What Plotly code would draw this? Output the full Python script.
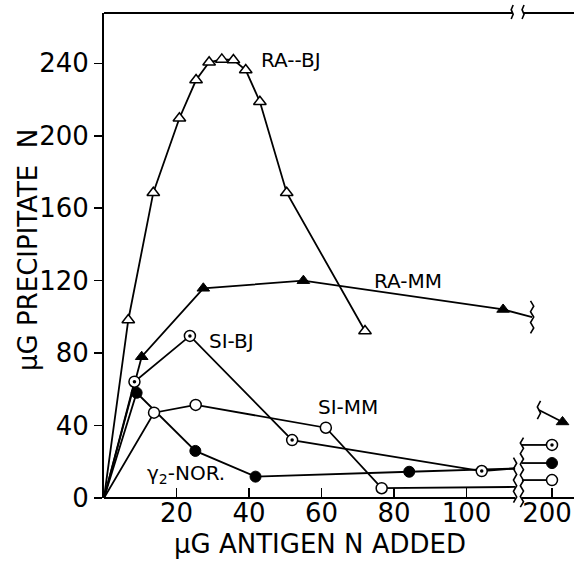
import plotly.graph_objects as go

# ---------------- data ----------------
ra_bj_x = [0, 6.7, 13.6, 20.8, 25.4, 29.0, 32.5, 35.7, 39.1, 43.0, 50.4, 72.0]
ra_bj_y = [0, 98.3, 168.6, 209.7, 230.8, 240.6, 242.2, 241.9, 236.3, 218.8, 168.6, 92.2]

ra_mm_x = [0, 10.4, 27.4, 55.0, 110.1]
ra_mm_y = [0, 78.0, 115.8, 120.0, 104.1]

si_bj_x = [0, 8.4, 23.7, 51.9, 104.2]
si_bj_y = [0, 64.2, 89.5, 32.0, 14.9]

si_mm_x = [0, 13.8, 25.3, 61.2, 76.6]
si_mm_y = [0, 47.1, 51.4, 38.8, 5.4]

g2_x = [0, 9.0, 25.2, 41.8, 84.2]
g2_y = [0, 58.1, 26.0, 11.8, 14.5]

# values where the lines are cut by the axis break
break_left_x = 113.4
ra_mm_cut = (118.1, 99.9)
si_bj_cut_y = 16.3
si_mm_cut_y = 6.1
g2_cut_y = 16.3

# right (200) segment
right_start_x = 191.7
ra_mm_right_start = (196.4, 48.6)
ra_mm_200 = (202.9, 42.0)
x_200 = 200
si_bj_200 = 29.3
g2_200 = 19.3
si_mm_200 = 9.9

x_ticks = [20, 40, 60, 80, 100]
x2_ticks = [200]
y_ticks = [0, 40, 80, 120, 160, 200, 240]

series_labels = ["RA--BJ", "RA-MM", "SI-BJ", "SI-MM", "γ<sub>2</sub>-NOR."]
label_pos = [(51.6, 241.9), (83.9, 119.8), (35.3, 86.7), (67.2, 50.0), (22.6, 13.0)]

# ---------------- layout geometry (page pixels) ----------------
FIG_W, FIG_H = 574, 564
L, R, T, B = 104, 574, 13, 498
W, H = R - L, B - T
PX_X = 3.625      # px per x unit
PX_Y = 1.811      # px per y unit
X1_END_PX = 534
X2_START_PX = 520
D1 = (X1_END_PX - L) / W
D2 = (X2_START_PX - L) / W
XR1 = [0, (X1_END_PX - L) / PX_X]
XR2 = [200 - (552 - X2_START_PX) / PX_X, 0]
XR2[1] = XR2[0] + (R - X2_START_PX) / PX_X
YR = [0, H / PX_Y]


def xp(v, ax=1):
    if ax == 1:
        return D1 * (v - XR1[0]) / (XR1[1] - XR1[0])
    return D2 + (1 - D2) * (v - XR2[0]) / (XR2[1] - XR2[0])


def yp(v):
    return (v - YR[0]) / (YR[1] - YR[0])


def squiggle(xpaper, ya, yb, amp=1.6, step=5.0):
    # vertical wavy mark in paper coords; amp/step in px
    n = max(2, int(abs(yb - ya) * H / step))
    pts = []
    for i in range(n + 1):
        y = ya + (yb - ya) * i / n
        dx = (amp / W) * (1 if i % 2 else -1)
        pts.append((xpaper + dx, y))
    return "M " + " L ".join(f"{x:.5f},{y:.5f}" for x, y in pts)


fig = go.Figure()
LW = 1.8

# ----- lines (left segment) -----
def add_line(xs, ys, xaxis="x"):
    fig.add_trace(go.Scatter(x=xs, y=ys, mode="lines", xaxis=xaxis, yaxis="y",
                             line=dict(color="black", width=LW), hoverinfo="skip"))

add_line(ra_bj_x, ra_bj_y)
add_line(ra_mm_x + [ra_mm_cut[0]], ra_mm_y + [ra_mm_cut[1]])
add_line(si_bj_x + [break_left_x], si_bj_y + [si_bj_cut_y])
add_line(si_mm_x + [break_left_x], si_mm_y + [si_mm_cut_y])
add_line(g2_x + [break_left_x], g2_y + [g2_cut_y])

# ----- lines (right segment) -----
add_line([ra_mm_right_start[0], ra_mm_200[0]], [ra_mm_right_start[1], ra_mm_200[1]], "x2")
add_line([right_start_x, x_200], [si_bj_200, si_bj_200], "x2")
add_line([right_start_x, x_200], [g2_200, g2_200], "x2")
add_line([right_start_x, x_200], [si_mm_200, si_mm_200], "x2")

# ----- markers -----
MS = 11
open_m = dict(color="white", size=MS, line=dict(color="black", width=1.5))
fill_m = dict(color="black", size=MS, line=dict(color="black", width=1))


def add_markers(xs, ys, sym, style, xaxis="x"):
    m = dict(style)
    m["symbol"] = sym
    fig.add_trace(go.Scatter(x=xs, y=ys, mode="markers", xaxis=xaxis, yaxis="y",
                             marker=m, cliponaxis=False, hoverinfo="skip"))

add_markers(ra_bj_x[1:], ra_bj_y[1:], "triangle-up", open_m)
add_markers(ra_mm_x[1:], ra_mm_y[1:], "triangle-up", fill_m)
add_markers([ra_mm_200[0]], [ra_mm_200[1]], "triangle-up", fill_m, "x2")
add_markers(si_mm_x[1:], si_mm_y[1:], "circle", open_m)
add_markers([x_200], [si_mm_200], "circle", open_m, "x2")
add_markers(g2_x[1:], g2_y[1:], "circle", fill_m)
add_markers([x_200], [g2_200], "circle", fill_m, "x2")
add_markers(si_bj_x[1:], si_bj_y[1:], "circle", open_m)
add_markers([x_200], [si_bj_200], "circle", open_m, "x2")
dot_m = dict(color="black", size=3.5, line=dict(width=0))
add_markers(si_bj_x[1:], si_bj_y[1:], "circle", dot_m)
add_markers([x_200], [si_bj_200], "circle", dot_m, "x2")

# ----- axis frame shapes -----
shapes = []
AXW = 2
line_style = dict(color="black", width=AXW)
shapes.append(dict(type="line", xref="paper", yref="paper", x0=0, x1=xp(break_left_x), y0=0, y1=0, line=line_style))
shapes.append(dict(type="line", xref="paper", yref="paper", x0=xp(right_start_x, 2), x1=1, y0=0, y1=0, line=line_style))
top_break = (112.6, 115.6)
shapes.append(dict(type="line", xref="paper", yref="paper", x0=0, x1=xp(top_break[0]), y0=1, y1=1, line=line_style))
shapes.append(dict(type="line", xref="paper", yref="paper", x0=xp(top_break[1]), x1=1, y0=1, y1=1, line=line_style))
sq_style = dict(color="black", width=1.6)
for tb in top_break:
    shapes.append(dict(type="path", xref="paper", yref="paper",
                       path=squiggle(xp(tb), 1 - 6 / H, 1 + 8 / H, amp=1.0, step=3.5), line=sq_style))
shapes.append(dict(type="path", xref="paper", yref="paper",
                   path=squiggle(xp(break_left_x), yp(-2.5), yp(si_bj_cut_y + 6)), line=sq_style))
shapes.append(dict(type="path", xref="paper", yref="paper",
                   path=squiggle(xp(right_start_x, 2), yp(-5), yp(si_bj_200 + 4)), line=sq_style))
shapes.append(dict(type="path", xref="paper", yref="paper",
                   path=squiggle(xp(ra_mm_cut[0]), yp(ra_mm_cut[1] - 9), yp(ra_mm_cut[1] + 9)), line=sq_style))
shapes.append(dict(type="path", xref="paper", yref="paper",
                   path=squiggle(xp(ra_mm_right_start[0], 2), yp(ra_mm_right_start[1] - 5), yp(ra_mm_right_start[1] + 5)), line=sq_style))

# ----- annotations -----
ann = []
for txt, (lx, ly) in zip(series_labels, label_pos):
    ann.append(dict(x=lx, y=ly, xref="x", yref="y", text=txt, showarrow=False,
                    xanchor="center", yanchor="middle", font=dict(size=20, color="black")))
ann.append(dict(x=(320 - L) / W, y=(B - 544) / H, xref="paper", yref="paper",
                text="μG ANTIGEN N ADDED", showarrow=False, xanchor="center", yanchor="middle",
                font=dict(size=26, color="black")))
ann.append(dict(x=(28 - L) / W, y=(B - 250) / H, xref="paper", yref="paper",
                text="μG PRECIPITATE  N", showarrow=False, textangle=-90,
                xanchor="center", yanchor="middle", font=dict(size=26, color="black")))

tickfont = dict(family="DejaVu Sans", size=26, color="black")
fig.update_layout(
    width=FIG_W, height=FIG_H,
    margin=dict(l=L, r=FIG_W - R, t=T, b=FIG_H - B, pad=0),
    paper_bgcolor="white", plot_bgcolor="rgba(0,0,0,0)",
    showlegend=False,
    font=dict(family="DejaVu Sans", color="black"),
    xaxis=dict(domain=[0, D1], range=XR1, anchor="y", tickvals=x_ticks,
               ticks="inside", ticklen=10, tickwidth=1.6, tickcolor="black",
               showline=False, showgrid=False, zeroline=False, tickfont=tickfont,
               ticklabelstandoff=-3),
    xaxis2=dict(domain=[D2, 1], range=XR2, anchor="y", tickvals=x2_ticks,
                ticks="inside", ticklen=10, tickwidth=1.6, tickcolor="black",
                showline=False, showgrid=False, zeroline=False, tickfont=tickfont,
                ticklabelstandoff=-3, ticklabelshift=-5, ticklabeloverflow="allow"),
    yaxis=dict(range=YR, anchor="x", tickvals=y_ticks, ticks="outside", ticklen=8,
               tickwidth=1.6, tickcolor="black", showline=True, linewidth=AXW,
               linecolor="black", showgrid=False, zeroline=False, tickfont=tickfont,
               ticklabelstandoff=0),
    shapes=shapes,
    annotations=ann,
)

page_css = ("document.body.style.margin='0';"
            "document.body.style.overflow='hidden';"
            "document.documentElement.style.overflow='hidden';")
fig.write_html("out.html", post_script=page_css,
               config={"displayModeBar": False, "staticPlot": True})
